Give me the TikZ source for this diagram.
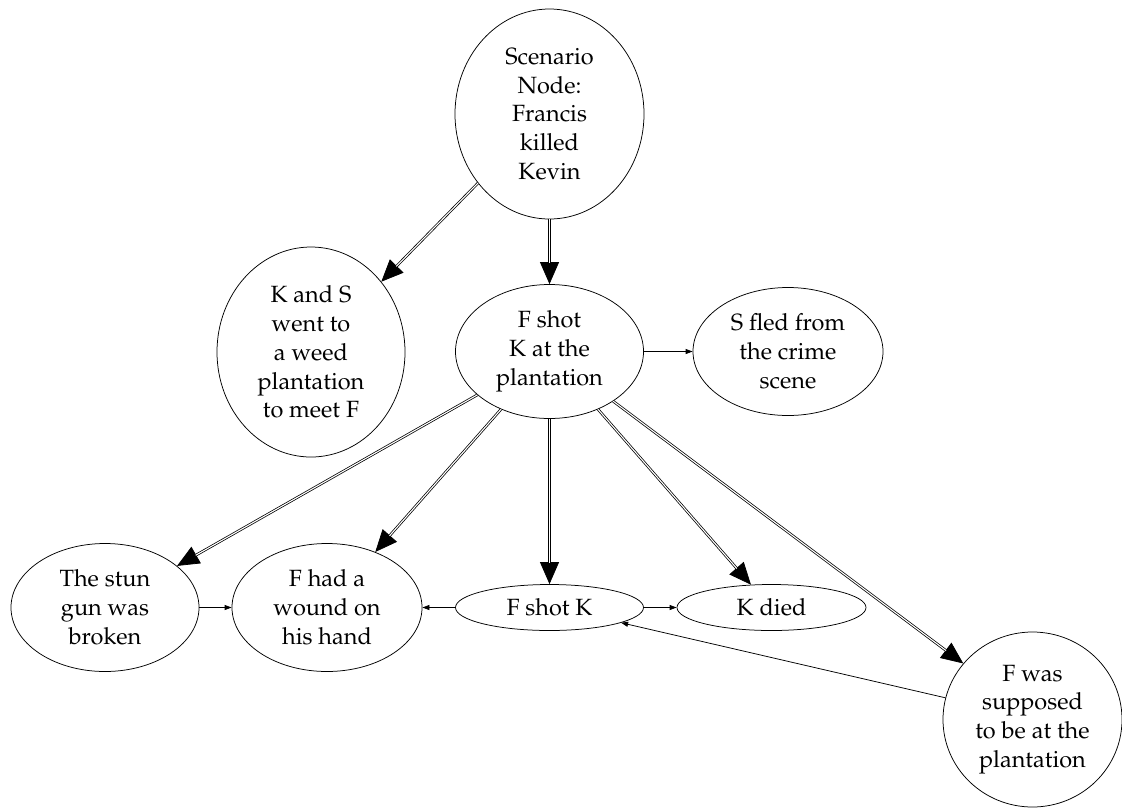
\documentclass[tikz,border=0pt]{standalone}
\usepackage[T1]{fontenc}
\usepackage{mathpazo}
\usetikzlibrary{shapes.geometric,arrows.meta}

\tikzset{
  ell/.style={draw, ellipse, line width=0.75pt, inner sep=0pt, align=center,
    font=\fontsize{23.5}{28.8}\selectfont},
  thinarrow/.style={line width=0.75pt, -{Triangle[length=7pt,width=5pt]}},
  tipline/.style={line width=0.75pt, -{Triangle[length=22pt,width=19pt]}},
  dblline/.style={line width=0.75pt, double=white, double distance=1.1pt, shorten >=21.5pt},
}
% double-lined connector with a large solid head
\newcommand\dblarrow[2]{%
  \draw[tipline] (#1) -- (#2);
  \draw[dblline] (#1) -- (#2);}

\begin{document}
\begin{tikzpicture}[x=1pt,y=-1pt]
\useasboundingbox (0,0) rectangle (1122,807);

\node[ell, minimum width=189pt, minimum height=210pt] (sc)   at (549.5,114) {Scenario\\Node:\\Francis\\killed\\Kevin};
\node[ell, minimum width=188pt, minimum height=210pt] (ks)   at (311,352)   {K and S\\went to\\a weed\\plantation\\to meet F};
\node[ell, minimum width=188pt, minimum height=134pt] (fp)   at (549.5,351.5) {F shot\\K at the\\plantation};
\node[ell, minimum width=190pt, minimum height=128pt] (sf)   at (788,351.5) {S fled from\\the crime\\scene};
\node[ell, minimum width=188pt, minimum height=128pt] (stun) at (105,607.5) {The stun\\gun was\\broken};
\node[ell, minimum width=190pt, minimum height=128pt] (wd)   at (327,607.5) {F had a\\wound on\\his hand};
\node[ell, minimum width=188pt, minimum height=46pt]  (fk)   at (549.5,607.5) {F shot K};
\node[ell, minimum width=189pt, minimum height=46pt]  (kd)   at (771.5,607.5) {K died};
\node[ell, minimum width=179pt, minimum height=175pt] (sup)  at (1032.5,719.5) {F was\\supposed\\to be at the\\plantation};

\dblarrow{sc.224}{ks.45}
\dblarrow{sc.south}{fp.north}
\dblarrow{fp.211}{stun.30}
\dblarrow{fp.230}{wd.49}
\dblarrow{fp.south}{fk.north}
\dblarrow{fp.310}{kd.132}
\dblarrow{fp.322}{sup.141}

\draw[thinarrow] (fp.east) -- (sf.west);
\draw[thinarrow] (stun.east) -- (wd.west);
\draw[thinarrow] (fk.west) -- (wd.east);
\draw[thinarrow] (fk.east) -- (kd.west);
\draw[thinarrow] (sup.166) -- (fk.348);
\end{tikzpicture}
\end{document}
